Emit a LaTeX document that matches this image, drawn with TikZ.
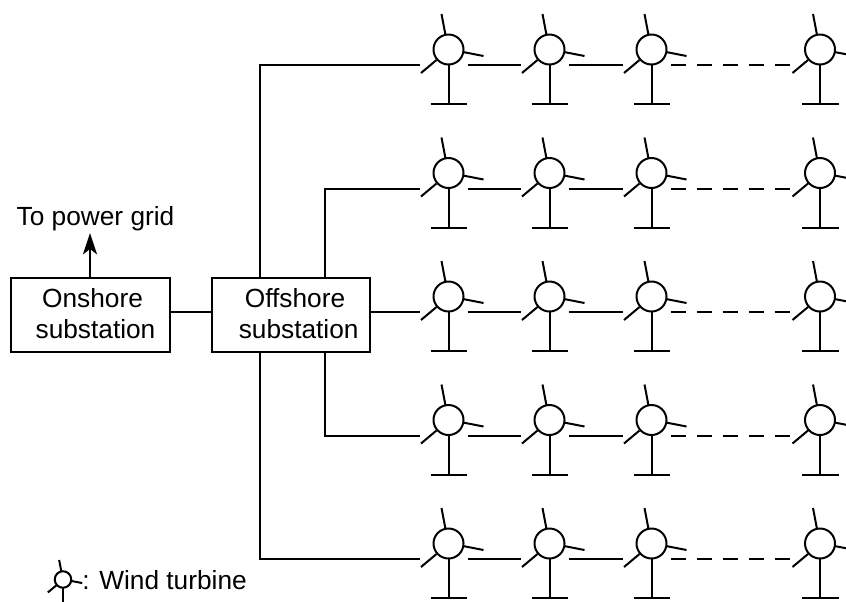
\documentclass[tikz,border=0pt]{standalone}
\usepackage{fontspec}
\setmainfont{Liberation Sans}
\usetikzlibrary{arrows.meta,positioning,calc}
\tikzset{
    wire/.style={line width=1.5pt},
    labeltext/.style={font=\fontsize{19.7}{23.2}\selectfont},
    subbox/.style={draw,labeltext,line width=1.5pt,minimum width=119pt,minimum height=55.5pt,inner sep=0pt,align=center},
    turbine/.pic={
        \node[draw,circle,line width=1.5pt,minimum size=22.5pt,inner sep=0pt] (-hub) at (0,0) {};
        \draw[wire] (-3,-14.5)--(-7,-35.5);
        \draw[wire] (14.5,2.5)--(35,6.5);
        \draw[wire] (-12,10.5)--(-27.5,23.5);
        \draw[wire] (0,15)--(0,54.5);
        \draw[wire] (-18,54.5)--(18.5,54.5);
        \coordinate (-in) at (-28.5,15.5);
        \coordinate (-out) at (19,15.5);
    }
}

\begin{document}
\begin{tikzpicture}[x=0.75pt,y=-0.75pt]
    \useasboundingbox (0,0) rectangle (846,601);
    \clip (0,0) rectangle (846,601);
    % substations
    \node[subbox] (onshore) at (90.5,315.3) {\hspace*{3pt}Onshore\\\hspace*{7.5pt}substation\rule[-3pt]{0pt}{3pt}};
    \node[subbox] (offshore) at (291,315.3) {\hspace*{6pt}Offshore\\\hspace*{11.5pt}substation\rule[-3pt]{0pt}{3pt}};
    \node[labeltext] (gridlabel) at (95.5,219) {To power grid};
    \draw[wire,-{Stealth[length=16pt,width=10.5pt,inset=4pt]}] (onshore.north -| 90,0)--(90,233);
    % turbines in rows
    \foreach \row/\ypos in {1/49.5,2/173,3/296.5,4/420,5/543.5}{
        \foreach \col/\xpos in {1/448.5,2/549.5,3/651.5,4/820}{
            \pic (t\row\col) at (\xpos,\ypos) {turbine};
        }
        \draw[wire] (t\row1-out)--(t\row2-in);
        \draw[wire] (t\row2-out)--(t\row3-in);
        \draw[wire,dash pattern=on 11.5pt off 8pt] (t\row3-out)--(t\row4-in);
    }
    % feeders
    \coordinate (onshoreR) at (onshore.east |- 0,312);
    \coordinate (offshoreL) at (offshore.west |- 0,312);
    \coordinate (offshoreR) at (offshore.east |- 0,312);
    \draw[wire] (onshoreR)--(offshoreL);
    \draw[wire] (offshoreR)--(t31-in);
    \draw[wire] (offshore.north -| 260,0) |- (t11-in);
    \draw[wire] (offshore.north -| 325,0) |- (t21-in);
    \draw[wire] (offshore.south -| 325,0) |- (t41-in);
    \draw[wire] (offshore.south -| 260,0) |- (t51-in);
    % legend
    \pic[scale=0.55,transform shape] (key) at (63,579.5) {turbine};
    \node[labeltext,anchor=west,inner sep=0pt] (keylabel) at (82,580) {: Wind turbine};
\end{tikzpicture}
\end{document}
